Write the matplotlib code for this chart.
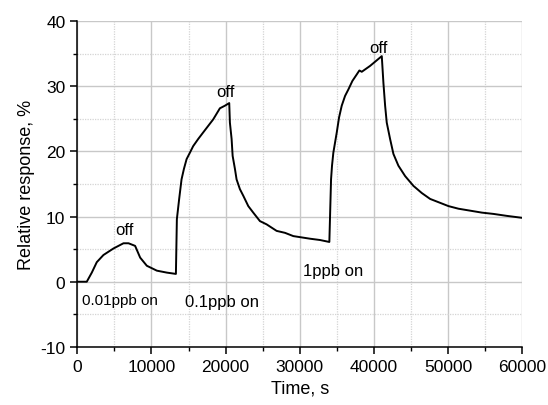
import matplotlib
matplotlib.use("Agg")
import matplotlib.pyplot as plt
from matplotlib.ticker import MultipleLocator

plt.rcParams['font.family'] = ['Liberation Sans', 'DejaVu Sans']
plt.rcParams['axes.unicode_minus'] = False

# response curve (time in s, response in %)
time = [0, 1280, 1960, 2630, 3530, 4880, 6230, 6910, 7800, 8480, 9380, 10730, 12080, 13300,
        13430, 13740, 14060, 14380, 14740, 15190, 15630, 16310, 16980, 18330, 19230, 19910, 20490,
        20580, 20810, 20950, 21260, 21480, 21930, 22380, 23060, 23730, 24630, 25530, 26880,
        28010, 29130, 31380, 32730, 33990,
        34220, 34350, 34530, 34990, 35300, 35660, 36110, 36560, 37100, 37690, 38040, 38360,
        39480, 41060,
        41280, 41510, 41730, 42180, 42630, 43300, 44210, 45330, 46460, 47580, 48930, 50050,
        51400, 52980, 54560, 56130, 57930, 60000]
response = [0, 0, 1.4, 3.0, 4.1, 5.1, 5.9, 5.9, 5.5, 3.7, 2.45, 1.7, 1.4, 1.2,
            9.6, 12.7, 15.7, 17.3, 18.8, 19.8, 20.8, 21.9, 22.9, 24.9, 26.6, 27.0, 27.4,
            24.4, 21.9, 19.3, 17.3, 15.7, 14.2, 13.2, 11.6, 10.6, 9.3, 8.8, 7.8,
            7.5, 7.0, 6.6, 6.4, 6.1,
            15.7, 17.8, 19.8, 22.9, 25.2, 27.0, 28.5, 29.5, 30.8, 31.8, 32.4, 32.2,
            33.1, 34.6,
            30.5, 27.0, 24.4, 21.9, 19.6, 17.8, 16.2, 14.7, 13.6, 12.7, 12.1, 11.6,
            11.2, 10.9, 10.6, 10.4, 10.1, 9.8]

labels = ["off", "off", "off", "0.01ppb on", "0.1ppb on", "1ppb on"]
label_x = [6400, 20000, 40600, 5750, 19500, 34500]
label_y = [8.0, 29.2, 35.9, -2.8, -3.1, 1.7]
label_size = [12, 12, 12, 11, 12, 12]

fig = plt.figure(figsize=(5.48, 4.06), dpi=100)
ax = fig.add_axes([0.141, 0.143, 0.812, 0.803])

ax.plot(time, response, color='black', lw=1.4)

for t, x, y, s in zip(labels, label_x, label_y, label_size):
    ax.text(x, y, t, ha='center', va='center', fontsize=s)

ax.set_xlim(0, 60000)
ax.set_ylim(-10, 40)
ax.xaxis.set_major_locator(MultipleLocator(10000))
ax.xaxis.set_minor_locator(MultipleLocator(5000))
ax.yaxis.set_major_locator(MultipleLocator(10))
ax.yaxis.set_minor_locator(MultipleLocator(5))

ax.grid(which='major', color='#c8c8c8', lw=1.0)
ax.grid(which='minor', color='#d4d4d4', lw=0.9, ls=(0, (1, 1)))
ax.set_axisbelow(True)

for side in ['top', 'right']:
    ax.spines[side].set_visible(False)
for side in ['left', 'bottom']:
    ax.spines[side].set_linewidth(1.1)

ax.tick_params(which='major', direction='out', length=5, width=1.1, labelsize=12.5)
ax.tick_params(which='minor', direction='out', length=3, width=1.0)

ax.set_xlabel('Time, s', fontsize=13)
ax.set_ylabel('Relative response, %', fontsize=13)

fig.savefig('out.png', dpi=100)
